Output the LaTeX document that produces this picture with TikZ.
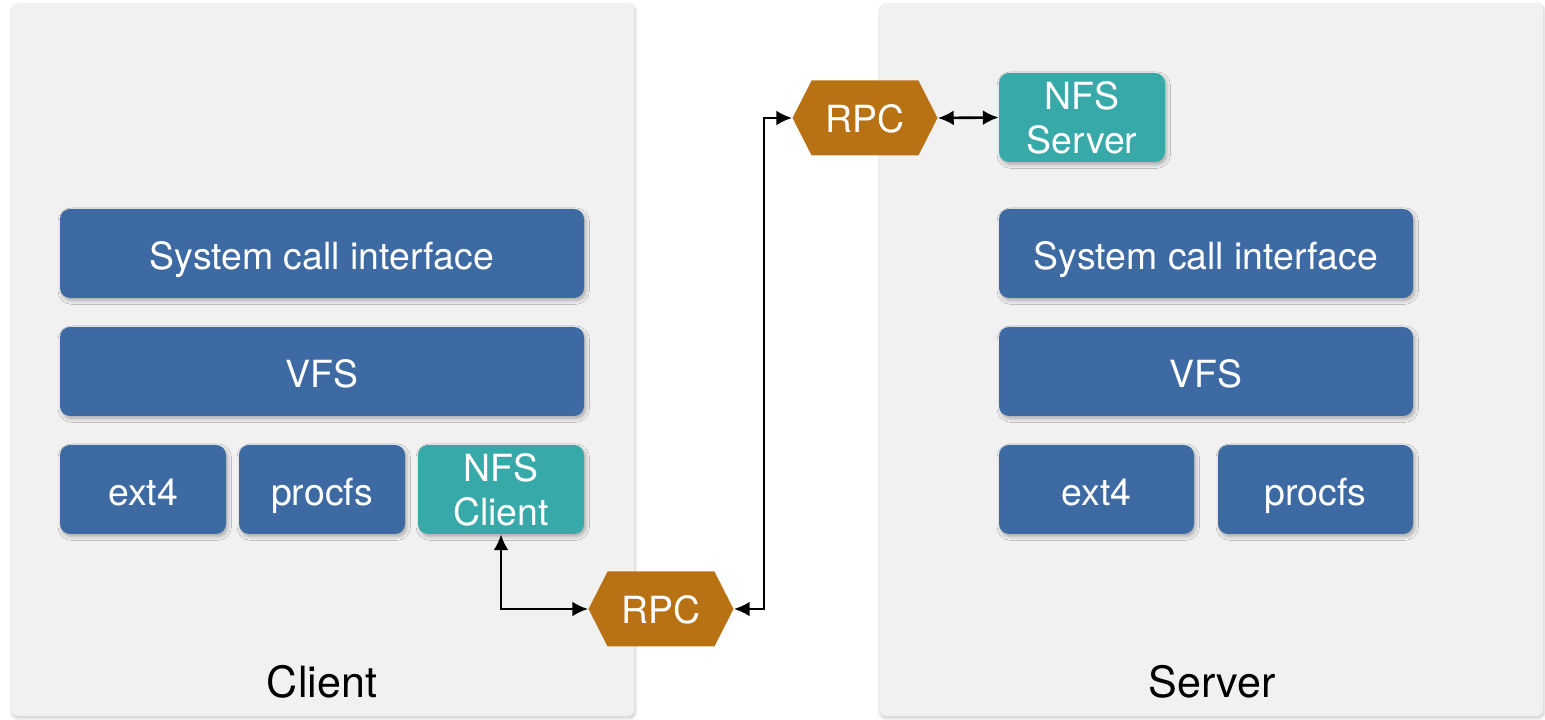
\documentclass[tikz,border=0pt]{standalone}
\usepackage{fontspec}
\setmainfont{TeX Gyre Heros}
\usetikzlibrary{arrows.meta,shapes.symbols,shadows.blur}
\definecolor{panelgray}{HTML}{F1F1F1}
\definecolor{layerblue}{HTML}{3D6AA2}
\definecolor{nfsteal}{HTML}{37A9A9}
\definecolor{rpcbrown}{HTML}{B87113}
\begin{document}
\begin{tikzpicture}[
  panel/.style={fill=panelgray,rounded corners=0.12cm,inner sep=0pt,
    blur shadow={shadow xshift=0.4pt,shadow yshift=-1pt,shadow blur steps=6,shadow opacity=25}},
  layer/.style={fill=layerblue,text=white,rounded corners=0.2cm,inner sep=0pt,
    minimum height=1.78cm,font=\fontsize{21.3}{25}\selectfont,align=center,
    text height=18.3pt,text depth=0pt,
    blur shadow={shadow xshift=1pt,shadow yshift=-1.5pt,shadow blur steps=6,shadow opacity=30}},
  nfs/.style={fill=nfsteal,text=white,rounded corners=0.2cm,inner sep=0pt,
    minimum height=1.78cm,minimum width=3.32cm,font=\fontsize{21.3}{25}\selectfont,align=center,
    blur shadow={shadow xshift=1pt,shadow yshift=-1.5pt,shadow blur steps=6,shadow opacity=30}},
  rpc/.style={signal,signal to=east and west,signal pointer angle=126,fill=rpcbrown,
    text=white,inner sep=0pt,minimum width=2.9cm,minimum height=1.5cm,
    font=\fontsize{21.3}{25}\selectfont,text height=16pt,text depth=0pt},
  link/.style={line width=1.5pt,{Latex[length=9pt,width=8.5pt]}-{Latex[length=9pt,width=8.5pt]}},
  caption/.style={font=\fontsize{24.5}{28}\selectfont}
]
  \useasboundingbox (0,0) rectangle (30.9,14.38);

  % machines
  \node[panel,minimum width=12.44cm,minimum height=14.24cm] (client) at (6.46,7.18) {};
  \node[panel,minimum width=13.26cm,minimum height=14.24cm] (server) at (24.23,7.18) {};
  \node[caption] (clientlbl) at (6.44,0.74) {Client};
  \node[caption] (serverlbl) at (24.24,0.74) {Server};

  % client stack
  \node[layer,minimum width=10.48cm] (csys) at (6.44,9.31) {System call interface};
  \node[layer,minimum width=10.48cm] (cvfs) at (6.44,6.95) {VFS};
  \node[layer,minimum width=3.32cm] (cext) at (2.86,4.59) {ext4};
  \node[layer,minimum width=3.32cm] (cproc) at (6.44,4.59) {procfs};
  \node[nfs] (ncl) at (10.02,4.59) {NFS\\Client};

  % server stack
  \node[layer,minimum width=8.28cm] (ssys) at (24.12,9.31) {System call interface};
  \node[layer,minimum width=8.28cm] (svfs) at (24.12,6.95) {VFS};
  \node[layer,minimum width=3.9cm] (sext) at (21.93,4.59) {ext4};
  \node[layer,minimum width=3.9cm] (sproc) at (26.31,4.59) {procfs};
  \node[nfs] (nsv) at (21.64,12.03) {NFS\\Server};

  % rpc
  \node[rpc] (rpcc) at (13.22,2.2) {RPC};
  \node[rpc] (rpcs) at (17.30,12.02) {RPC};

  \draw[link] (ncl.south) |- (rpcc.west);
  \draw[link] (rpcc.east) -- ++(0.6,0) |- (rpcs.west);
  \draw[link] (rpcs.east) -- (nsv.west);
\end{tikzpicture}
\end{document}
